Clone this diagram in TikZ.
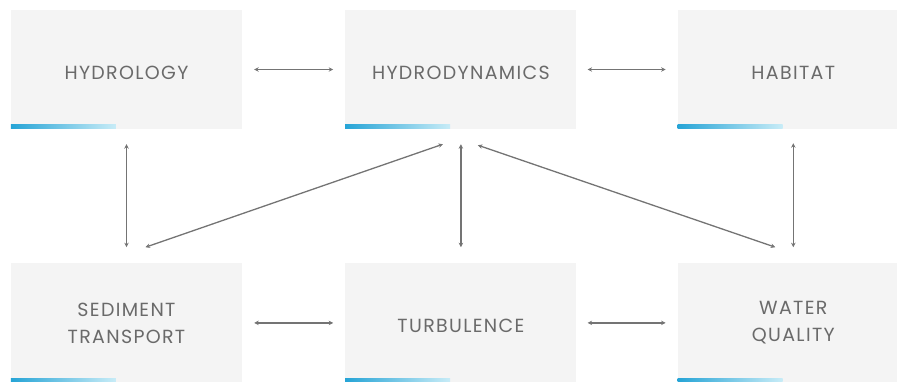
\documentclass[tikz,border=0pt]{standalone}
\usepackage{fontspec}
\setmainfont{Poppins}
\usetikzlibrary{arrows.meta,positioning,calc}
\definecolor{boxgray}{HTML}{F4F4F4}
\definecolor{txtgray}{HTML}{6A6A6A}
\definecolor{linegray}{HTML}{747474}
\definecolor{barblue}{HTML}{26A4D6}
\definecolor{barlight}{HTML}{C8ECF7}

\begin{document}
\begin{tikzpicture}[
    x=1pt, y=-1pt,
    box/.style={fill=boxgray, minimum width=231pt, minimum height=119pt, inner sep=0pt,
        align=center, text=txtgray, font=\fontsize{19}{27}\selectfont\addfontfeature{LetterSpace=7}},
    link/.style={{Stealth[length=4.5pt,width=4.5pt]}-{Stealth[length=4.5pt,width=4.5pt]}, draw=linegray, line width=1.3pt},
    bar/.style={left color=barblue, right color=barlight, draw=none}
]

    % --- Frame ---
    \useasboundingbox (0,0) rectangle (897,381);
    \clip (0,0) rectangle (897,381);

    % --- Top row ---
    \node[box] (hydro) at (126.5,69.5) {\raisebox{-10pt}[0pt][0pt]{HYDROLOGY}};
    \node[box, right=103pt of hydro] (hdyn) {\raisebox{-10pt}[0pt][0pt]{HYDRODYNAMICS}};
    \node[box, right=101pt of hdyn] (habitat) {\raisebox{-10pt}[0pt][0pt]{HABITAT}};

    % --- Bottom row ---
    \node[box, below=134pt of hydro] (sed) {SEDIMENT\\TRANSPORT};
    \node[box, below=134pt of hdyn] (turb) {\raisebox{-10pt}[0pt][0pt]{TURBULENCE}};
    \node[box, below=134pt of habitat] (wq) {WATER\\QUALITY};

    % --- Blue bars ---
    \foreach \b in {hydro, hdyn, habitat, sed, turb, wq}
        \shade[bar] ([yshift=1pt]\b.south west) rectangle ([xshift=105pt, yshift=4.5pt]\b.south west);

    % --- Horizontal links ---
    \draw[link, shorten <=12pt, shorten >=12pt] (hydro) -- (hdyn);
    \draw[link, shorten <=11pt, shorten >=12pt] (hdyn) -- (habitat);
    \draw[link, shorten <=12pt, shorten >=12pt] (sed) -- (turb);
    \draw[link, shorten <=11pt, shorten >=12pt] (turb) -- (wq);

    % --- Vertical links ---
    \draw[link, shorten <=15pt, shorten >=16pt] (hydro) -- (sed);
    \draw[link, shorten <=15pt, shorten >=16pt] (hdyn) -- (turb);
    \draw[link, shorten <=14pt, shorten >=16pt] (habitat) -- (wq);

    % --- Diagonal links ---
    \draw[link] ([xshift=19pt, yshift=16pt]sed.north) -- ([xshift=-18pt, yshift=-15pt]hdyn.south);
    \draw[link] ([xshift=17pt, yshift=-16pt]hdyn.south) -- ([xshift=-18pt, yshift=16pt]wq.north);

\end{tikzpicture}
\end{document}
